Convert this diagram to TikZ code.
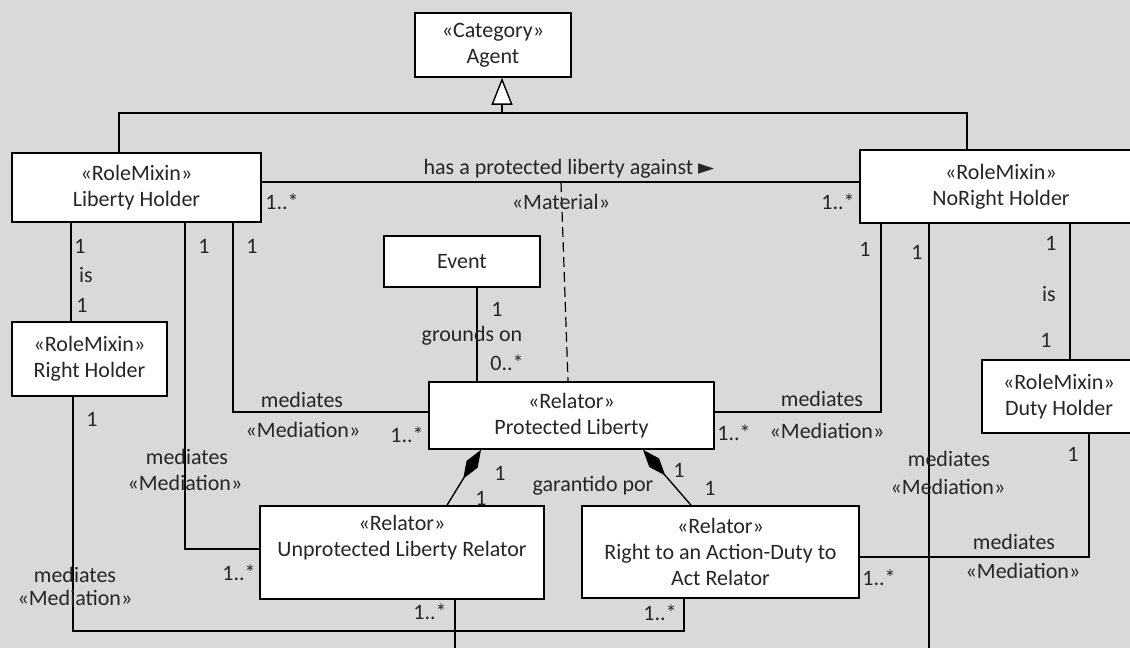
\documentclass[tikz,border=0pt]{standalone}
\usepackage{fontspec}
\setmainfont{Carlito}
\newfontfamily\symfont{DejaVu Sans}
\usepackage{tikz}
\usetikzlibrary{arrows.meta}
\definecolor{bggray}{HTML}{D9D9D9}
\definecolor{txtgray}{HTML}{262626}

\begin{document}
\begin{tikzpicture}[x=1pt,y=-1pt,
  cls/.style={draw,line width=1.6pt,fill=white,align=center,inner sep=0pt,
    font=\fontsize{22}{26}\selectfont,text=txtgray},
  lbl/.style={inner sep=0pt,font=\fontsize{22}{26}\selectfont,text=txtgray},
  conn/.style={line width=1.4pt},
  comp/.style={line width=1.4pt,-{Diamond[length=34pt,width=13pt]}}]
  \fill[bggray] (0,0) rectangle (1130,648); % 背景
  \useasboundingbox (0,0) rectangle (1130,648);
  \clip (0,0) rectangle (1130,648); % 右端ではみ出す箱を切る
  \node[cls,minimum width=156pt,minimum height=64pt] (agent) at (493,45) {«Category»\\Agent}; % 上位のカテゴリ
  \node[cls,minimum width=249pt,minimum height=69pt] (liberty) at (136.5,187.5) {«RoleMixin»\\Liberty Holder}; % 自由の保有者
  \node[cls,minimum width=282pt,minimum height=73pt] (noright) at (1001,186.5) {«RoleMixin»\\NoRight Holder}; % 無権利の保有者
  \node[cls,minimum width=155pt,minimum height=74pt] (righth) at (89.5,359) {«RoleMixin»\\Right Holder}; % 権利の保有者
  \node[cls,minimum width=156pt,minimum height=51pt] (event) at (462,261.5) {Event}; % 出来事
  \node[cls,minimum width=285pt,minimum height=67pt] (protected) at (571.5,415.5) {«Relator»\\Protected Liberty}; % 中心の関係体
  \node[cls,minimum width=154pt,minimum height=73pt] (duty) at (1059,396.5) {«RoleMixin»\\Duty Holder}; % 義務の保有者
  \node[cls,minimum width=284pt,minimum height=93pt] (unprot) at (402,552.5) {«Relator»\\Unprotected Liberty Relator\\\strut}; % 保護なしの関係体
  \node[cls,minimum width=277pt,minimum height=92pt] (rightact) at (720.5,552) {«Relator»\\Right to an Action-Duty to\\Act Relator}; % 権利と義務の関係体
  \coordinate (gen) at (502,113); % 汎化の合流点
  \draw[conn,-{Triangle[length=27pt,width=21pt,fill=white]}] (gen) -- (agent.south -| gen); % 汎化の矢印
  \draw[conn] (liberty.north -| 119,0) |- (gen) -| (noright.north -| 967,0); % 汎化の枝
  \draw[conn] (liberty.east |- 0,182) -- (noright.west |- 0,182); % 自由の関連
  \coordinate (matc) at (561,182); % 関連上の点
  \draw[line width=1.2pt,dash pattern=on 10pt off 5pt] (matc) -- (protected.north -| 568,0); % «Material» の点線
  \draw[conn] (liberty.south -| 71,0) -- (righth.north -| 71,0); % is の線
  \draw[conn] (liberty.south -| 185,0) |- (unprot.west |- 0,549); % 仲介（保護なし）
  \draw[conn] (liberty.south -| 233,0) |- (protected.west |- 0,412); % 仲介（左）
  \draw[conn] (event.south -| 477,0) -- (protected.north -| 477,0); % grounds on の線
  \draw[conn] (noright.south -| 881,0) |- (protected.east |- 0,412); % 仲介（右）
  \coordinate (nrend) at (929,660); % 下へ抜ける端
  \draw[conn] (noright.south -| 929,0) -- (nrend); % 仲介（下へ）
  \draw[conn] (noright.south -| 1070,0) -- (duty.north -| 1070,0); % is の線（右）
  \draw[conn] (duty.south -| 1089,0) |- (rightact.east |- 0,557); % 仲介（義務）
  \coordinate (rhc) at (684,631); % 下の角
  \draw[conn] (righth.south -| 73,0) |- (rhc) -- (rightact.south -| rhc); % 仲介（権利）
  \coordinate (upend) at (455,660); % 下へ抜ける端
  \draw[conn] (unprot.south -| 455,0) -- (upend); % 保護なしから下へ
  \draw[comp] (unprot.north -| 447,0) -- (protected.south -| 481,0); % 合成（左）
  \draw[comp] (rightact.north -| 691,0) -- (protected.south -| 643,0); % 合成（右）
  \node[lbl] (asc) at (569,169) {has a protected liberty against {\symfont\fontsize{21}{26}\selectfont ►}}; % 関連名
  \node[lbl] (ascL) at (282,202) {1..*};
  \node[lbl] (ascR) at (838,202) {1..*};
  \node[lbl] (mat) at (561,202) {«Material»};
  \node[lbl] (isA1) at (80,246) {1};
  \node[lbl] (isA) at (86,275) {is};
  \node[lbl] (isA2) at (82,305) {1};
  \node[lbl] (muL1) at (204,246) {1};
  \node[lbl] (muM) at (187,457) {mediates};
  \node[lbl] (muS) at (185,483) {«Mediation»};
  \node[lbl] (muN) at (239,573) {1..*};
  \node[lbl] (mpL1) at (252,246) {1};
  \node[lbl] (mpM) at (302,400) {mediates};
  \node[lbl] (mpS) at (303,430) {«Mediation»};
  \node[lbl] (mpN) at (407,435) {1..*};
  \node[lbl] (ev1) at (497,309) {1};
  \node[lbl] (evg) at (472,336) {grounds on};
  \node[lbl] (evN) at (507,363) {0..*};
  \node[lbl] (mnR1) at (865,249) {1};
  \node[lbl] (mnM) at (822,399) {mediates};
  \node[lbl] (mnS) at (827,431) {«Mediation»};
  \node[lbl] (mnN) at (734,433) {1..*};
  \node[lbl] (mxR1) at (917,252) {1};
  \node[lbl] (mxM) at (949,459) {mediates};
  \node[lbl] (mxS) at (948,487) {«Mediation»};
  \node[lbl] (isB1) at (1051,243) {1};
  \node[lbl] (isB) at (1049,294) {is};
  \node[lbl] (isB2) at (1046,340) {1};
  \node[lbl] (mdD1) at (1073,454) {1};
  \node[lbl] (mdM) at (1014,542) {mediates};
  \node[lbl] (mdS) at (1023,571) {«Mediation»};
  \node[lbl] (mdN) at (879,578) {1..*};
  \node[lbl] (cu1) at (500,473) {1};
  \node[lbl] (cu2) at (481,498) {1};
  \node[lbl] (cr1) at (679,470) {1};
  \node[lbl] (cr2) at (710,488) {1};
  \node[lbl] (gar) at (593,486) {garantido por};
  \node[lbl] (rh1) at (92,419) {1};
  \node[lbl] (rhM) at (75,575) {mediates};
  \node[lbl] (rhS) at (75,598) {«Mediation»};
  \node[lbl] (rhN) at (660,613) {1..*};
  \node[lbl] (upN) at (430,612) {1..*};
\end{tikzpicture}
\end{document}
